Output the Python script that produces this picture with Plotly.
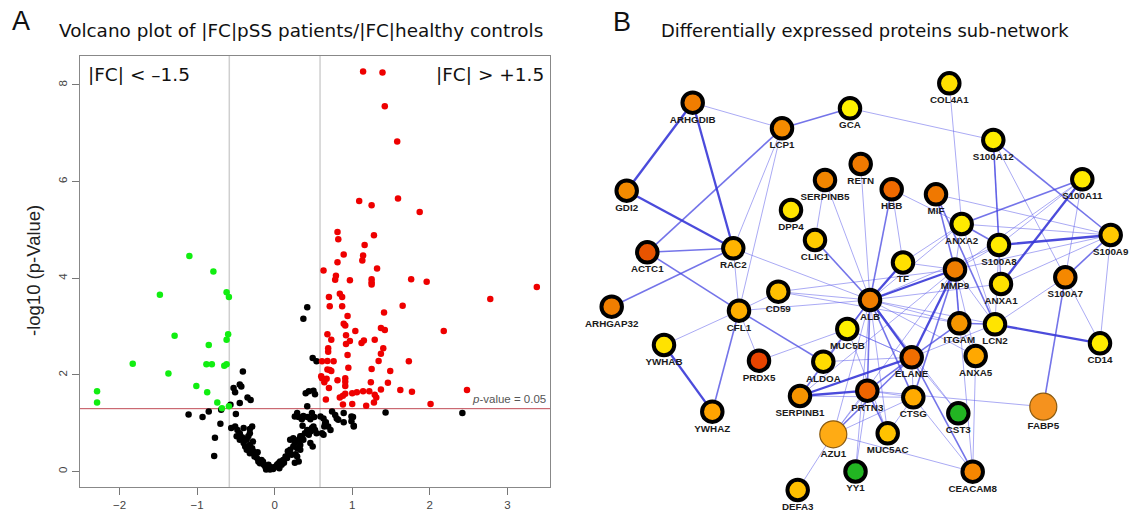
import plotly.graph_objects as go

# ---------------- Volcano plot data ----------------
green_x = [-1.10, -0.79, -1.48, -0.62, -0.59, -1.29, -0.60, -0.62, -0.85, -1.83, -0.88,
           -0.81, -0.65, -0.62, -1.37, -1.01, -0.87, -2.29, -2.29, -0.74, -0.68, -0.59]
green_y = [4.46, 4.14, 3.66, 3.71, 3.61, 2.81, 2.84, 2.73, 2.62, 2.23, 2.22,
           2.22, 2.19, 2.22, 2.03, 1.77, 1.64, 1.66, 1.43, 1.43, 1.31, 1.35]

red_x = [1.14, 1.39, 1.42, 1.58, 1.09, 1.25, 1.59, 1.87, 0.81, 0.82, 1.28, 1.16, 0.89, 1.14,
         1.13, 0.81, 1.32, 0.63, 0.79, 0.78, 0.97, 1.25, 1.25, 1.25, 1.76, 1.96, 3.38, 0.84,
         0.87, 0.70, 2.78, 1.65, 0.71, 0.87, 1.41, 0.94, 0.89, 0.91, 1.37, 1.42, 2.18, 1.04,
         0.68, 0.92, 0.73, 0.97, 0.92, 1.15, 1.12, 1.29, 1.40, 0.69, 0.69, 1.37, 0.94, 1.34,
         1.73, 0.61, 0.68, 0.76, 0.68, 0.71, 0.73, 0.95, 1.25, 1.49, 0.60, 0.61, 0.67, 0.64,
         0.81, 0.91, 0.91, 0.91, 1.24, 1.46, 0.70, 1.37, 1.62, 1.77, 1.00, 1.06, 1.14, 1.22,
         0.91, 0.88, 0.84, 1.29, 1.31, 1.28, 0.66, 0.88, 1.00, 1.18, 2.01, 2.48]
red_y = [8.28, 8.26, 7.56, 6.83, 5.60, 5.51, 5.65, 5.37, 4.96, 4.81, 4.89, 4.69, 4.49, 4.47,
         4.37, 4.33, 4.20, 4.16, 4.05, 3.97, 3.96, 3.98, 3.92, 3.87, 3.98, 3.93, 3.82, 3.68,
         3.61, 3.61, 3.57, 3.43, 3.42, 3.42, 3.29, 3.22, 3.06, 3.02, 2.97, 2.93, 2.91, 2.91,
         2.84, 2.82, 2.73, 2.70, 2.64, 2.71, 2.66, 2.73, 2.55, 2.55, 2.48, 2.44, 2.41, 2.29,
         2.28, 2.28, 2.29, 2.28, 2.11, 2.10, 2.08, 2.15, 2.12, 2.08, 1.97, 1.93, 1.92, 1.85,
         1.89, 1.93, 1.86, 1.77, 1.85, 1.84, 1.73, 1.70, 1.69, 1.65, 1.62, 1.64, 1.66, 1.66,
         1.61, 1.57, 1.53, 1.59, 1.53, 1.43, 1.49, 1.39, 1.40, 1.36, 1.40, 1.69]

black_x = [-1.11, -0.93, -0.85, -0.69, -0.70, -0.77, -0.78, -0.57, -0.56, -0.50, -0.45, -0.41,
           -0.53, -0.51, -0.45, -0.43, -0.35, -0.31,
           -0.51, -0.48, -0.45, -0.49, -0.45, -0.42, -0.40, -0.38, -0.36, -0.40, -0.32, -0.29,
           -0.32, -0.34, -0.36, -0.32, -0.29, -0.27, -0.25, -0.32, -0.23, -0.21, -0.19, -0.17,
           -0.14, -0.12, -0.10, -0.08, -0.06, -0.04, -0.02, 0.01, 0.03, 0.05, 0.07, 0.09, 0.11,
           0.14, 0.16, 0.18, 0.20, 0.22, 0.24, 0.26, 0.29, 0.31, 0.33, 0.35, 0.37, 0.39, 0.42,
           0.44, 0.46, 0.48, 0.50, 0.52, 0.54, 0.49, 0.33, 0.29, 0.20, 0.24,
           0.26, 0.31, 0.35, 0.37, 0.42, 0.46, 0.51, 0.42, 0.40, 0.44, 0.50, 0.52, 0.49, 0.54,
           0.59, 0.63, 0.66, 0.69, 0.72, 0.61, 0.64, 0.74, 0.78, 0.82, 0.89, 1.01, 1.02, 0.80,
           1.43, 2.42, 0.37, 0.42,
           0.29, 0.48, 0.65, 0.89, 0.99, 1.02, 0.99, 0.63, 0.46, 0.33, 0.26, 0.31,
           -0.28, -0.26, -0.22, -0.15, -0.11, 0.06, 0.12, 0.17, 0.27, 0.36]
black_y = [1.18, 1.13, 1.24, 1.28, 0.99, 0.70, 0.32, 1.38, 0.90, 1.19, 1.42, 2.07,
           1.73, 1.64, 1.80, 1.76, 1.53, 1.48,
           0.93, 0.86, 0.79, 0.73, 0.66, 0.71, 0.59, 0.52, 0.45, 0.90, 0.88, 0.93,
           0.79, 0.73, 0.66, 0.55, 0.48, 0.41, 0.35, 0.38, 0.28, 0.21, 0.17, 0.24,
           0.14, 0.10, 0.07, 0.14, 0.04, 0.09, 0.05, 0.10, 0.14, 0.17, 0.21, 0.14, 0.24,
           0.31, 0.28, 0.38, 0.45, 0.35, 0.52, 0.59, 0.48, 0.66, 0.55, 0.73, 0.66, 0.79, 0.86,
           0.76, 0.83, 0.90, 0.93, 0.86, 0.79, 0.52, 0.45, 0.31, 0.66, 0.69,
           1.14, 1.13, 1.08, 1.15, 1.13, 1.08, 1.13, 1.35, 1.62, 1.66, 1.67, 1.60, 2.35, 2.28,
           1.14, 1.10, 1.02, 0.93, 0.86, 0.79, 0.93, 1.24, 1.17, 1.07, 1.02, 1.13, 0.93, 1.10,
           1.22, 1.21, 3.16, 3.40,
           1.21, 1.21, 1.00, 1.21, 1.14, 0.95, 1.04, 0.76, 0.59, 0.73, 0.18, 0.21,
           0.62, 0.31, 0.40, 0.20, 0.04, 0.07, 0.18, 0.42, 0.36, 0.95]

fc_threshold = 0.585
p_threshold = 1.301
x_ticks = [-2, -1, 0, 1, 2, 3]
y_ticks = [0, 2, 4, 6, 8]

# ---------------- Network data ----------------
node_names = ["ARHGDIB", "LCP1", "GCA", "COL4A1", "S100A12", "GDI2", "SERPINB5", "RETN", "HBB",
              "MIF", "S100A11", "DPP4", "CLIC1", "ANXA2", "S100A8", "S100A9", "ACTC1", "RAC2",
              "TF", "MMP9", "ANXA1", "S100A7", "ARHGAP32", "CD59", "CFL1", "ALB", "MUC5B",
              "ITGAM", "LCN2", "CD14", "YWHAB", "PRDX5", "ALDOA", "ELANE", "ANXA5", "SERPINB1",
              "PRTN3", "CTSG", "CST3", "FABP5", "YWHAZ", "AZU1", "MUC5AC", "YY1", "CEACAM8",
              "DEFA3"]
node_x = [692.7, 782.0, 850.0, 949.3, 993.3, 626.7, 825.0, 860.7, 891.7,
          936.0, 1082.3, 791.0, 815.0, 961.7, 999.0, 1110.7, 647.3, 733.3,
          903.0, 955.0, 1001.0, 1065.3, 611.7, 778.3, 739.0, 870.0, 847.3,
          959.3, 995.0, 1100.0, 664.0, 759.0, 823.3, 911.7, 975.7, 800.0,
          867.3, 913.3, 958.3, 1043.3, 712.3, 833.3, 887.7, 855.5, 972.7,
          797.7]
node_y = [102.7, 128.3, 108.3, 83.3, 140.0, 190.7, 180.0, 164.0, 189.3,
          194.3, 179.3, 210.0, 240.0, 224.0, 245.0, 235.0, 252.3, 248.3,
          262.5, 269.5, 284.0, 277.3, 306.7, 291.7, 310.7, 300.0, 329.0,
          323.3, 324.3, 343.3, 345.0, 360.7, 361.7, 357.3, 356.0, 396.0,
          390.7, 397.3, 413.3, 406.7, 411.7, 434.3, 433.3, 471.5, 471.7,
          490.0]
node_color = ["#F07D00", "#F58C00", "#FFF200", "#FFE000", "#FFEC00", "#F28A00", "#F28600", "#F07A00", "#F06A00",
              "#F07800", "#FFEA00", "#FFE400", "#FFCC00", "#FFEA00", "#FFEA00", "#FFC800", "#E85400", "#FFB400",
              "#FFE000", "#F07E00", "#FFE200", "#F58800", "#F07E00", "#FFC000", "#FFAE00", "#F07E00", "#FFF000",
              "#F59600", "#FFE400", "#FFEC00", "#FFE200", "#E84400", "#FFDC00", "#F06E00", "#FFA800", "#F59400",
              "#EE6400", "#FFAA00", "#22B522", "#F5921E", "#FFA400", "#FFAB14", "#FFC200", "#22B522", "#F58600",
              "#FFC000"]
big_nodes = ["FABP5", "AZU1"]

edges_thick = [("ARHGDIB", "GDI2"), ("ARHGDIB", "RAC2"), ("GDI2", "RAC2"), ("YWHAB", "YWHAZ"),
               ("S100A8", "S100A9"), ("ALB", "ELANE"), ("ELANE", "MMP9"), ("SERPINB1", "ELANE"),
               ("TF", "ALB"), ("LCN2", "CD14"), ("S100A11", "ANXA1"), ("ALB", "MMP9"),
               ("SERPINB1", "PRTN3")]
edges_medium = [("LCP1", "GCA"), ("LCP1", "ACTC1"), ("ACTC1", "CFL1"), ("RAC2", "ARHGAP32"),
                ("CFL1", "YWHAZ"), ("CFL1", "ALDOA"), ("S100A12", "S100A8"), ("S100A12", "S100A9"),
                ("S100A11", "ANXA2"), ("S100A9", "S100A7"), ("HBB", "ALB"), ("MIF", "MMP9"),
                ("S100A7", "FABP5"), ("CLIC1", "ALB"), ("ALB", "PRTN3"), ("ALB", "CTSG"),
                ("ELANE", "PRTN3"), ("ELANE", "CEACAM8"), ("MMP9", "ITGAM"), ("ITGAM", "LCN2"),
                ("PRTN3", "MUC5AC"), ("AZU1", "ELANE"), ("MMP9", "CTSG"), ("ANXA2", "S100A8"),
                ("ALB", "SERPINB1"), ("ELANE", "ITGAM"), ("MIF", "LCN2"), ("ACTC1", "RAC2")]
edges_thin = [("ARHGDIB", "LCP1"), ("LCP1", "RAC2"), ("LCP1", "CFL1"), ("RAC2", "CFL1"), ("RAC2", "ALB"),
              ("SERPINB5", "CLIC1"), ("SERPINB5", "ALB"), ("GCA", "S100A12"), ("COL4A1", "ANXA2"),
              ("S100A12", "S100A7"), ("S100A11", "S100A7"), ("S100A11", "S100A8"), ("S100A9", "ANXA2"),
              ("MIF", "S100A9"), ("S100A9", "MMP9"), ("S100A9", "ANXA1"), ("S100A9", "CD14"),
              ("HBB", "TF"), ("HBB", "ANXA2"), ("RETN", "ALB"), ("ANXA2", "ALB"), ("ANXA2", "MMP9"),
              ("ANXA2", "TF"), ("TF", "MMP9"), ("ALB", "CFL1"), ("ALB", "CD59"), ("ALB", "MUC5B"),
              ("ALB", "ALDOA"), ("ALB", "ITGAM"), ("ALB", "LCN2"), ("ALB", "ANXA5"), ("ALB", "S100A8"),
              ("ALB", "ANXA1"), ("ALB", "CST3"), ("ALB", "AZU1"), ("ALB", "MUC5AC"), ("ALB", "YY1"),
              ("CD59", "MMP9"), ("CD59", "ITGAM"), ("CFL1", "YWHAB"), ("CFL1", "PRDX5"), ("CFL1", "CD59"),
              ("PRDX5", "MUC5B"), ("SERPINB1", "MMP9"), ("SERPINB1", "CTSG"), ("AZU1", "DEFA3"),
              ("AZU1", "PRTN3"), ("AZU1", "CTSG"), ("AZU1", "MMP9"), ("ELANE", "CTSG"), ("ELANE", "CST3"),
              ("ELANE", "LCN2"), ("ELANE", "MUC5B"), ("ELANE", "ALDOA"), ("PRTN3", "CTSG"),
              ("PRTN3", "FABP5"), ("CTSG", "MUC5AC"), ("CTSG", "CEACAM8"), ("MMP9", "LCN2"),
              ("MMP9", "ANXA5"), ("MMP9", "CEACAM8"), ("MMP9", "S100A8"), ("ANXA5", "CEACAM8"),
              ("ANXA5", "ITGAM"), ("S100A7", "LCN2"), ("S100A7", "CD14"), ("AZU1", "CEACAM8"),
              ("MUC5AC", "MUC5B"), ("S100A8", "ANXA1"), ("S100A8", "LCN2"), ("S100A11", "MMP9"),
              ("S100A12", "ANXA1"), ("ANXA2", "LCN2"), ("MUC5B", "ELANE"), ("YY1", "PRTN3")]

# ---------------- Figure ----------------
W, H = 1130, 515
fig = go.Figure()

# Volcano reference lines
fig.add_trace(go.Scatter(x=[-fc_threshold, -fc_threshold], y=[-0.32, 8.6], mode="lines",
                         line=dict(color="#cfcfcf", width=1.5), showlegend=False, hoverinfo="skip"))
fig.add_trace(go.Scatter(x=[fc_threshold, fc_threshold], y=[-0.32, 8.6], mode="lines",
                         line=dict(color="#cfcfcf", width=1.5), showlegend=False, hoverinfo="skip"))
fig.add_trace(go.Scatter(x=[-2.51, 3.55], y=[p_threshold, p_threshold], mode="lines",
                         line=dict(color="#c04a55", width=1), showlegend=False, hoverinfo="skip"))

for xs, ys, col in [(black_x, black_y, "#000000"), (red_x, red_y, "#ee0000"), (green_x, green_y, "#11ee11")]:
    fig.add_trace(go.Scatter(x=xs, y=ys, mode="markers", marker=dict(color=col, size=6.5, opacity=1),
                             showlegend=False, xaxis="x", yaxis="y"))

# Network edges
idx = {n: i for i, n in enumerate(node_names)}
for elist, col, wdt in [(edges_thin, "rgba(100,100,235,0.55)", 1.0),
                        (edges_medium, "rgba(70,70,225,0.75)", 1.6),
                        (edges_thick, "rgba(55,55,215,0.9)", 2.3)]:
    ex, ey = [], []
    for a, b in elist:
        ex += [node_x[idx[a]], node_x[idx[b]], None]
        ey += [node_y[idx[a]], node_y[idx[b]], None]
    fig.add_trace(go.Scatter(x=ex, y=ey, mode="lines", line=dict(color=col, width=wdt),
                             xaxis="x2", yaxis="y2", showlegend=False, hoverinfo="skip"))

# Network nodes
sizes = [27 if n in big_nodes else 20.5 for n in node_names]
lw = [1.2 if n in big_nodes else 4 for n in node_names]
lc = ["#8a5a10" if n in big_nodes else "#000000" for n in node_names]
fig.add_trace(go.Scatter(x=node_x, y=node_y, mode="markers",
                         marker=dict(color=node_color, size=sizes, opacity=1,
                                     line=dict(color=lc, width=lw)),
                         xaxis="x2", yaxis="y2", showlegend=False, text=node_names))
label_y = [y + (20 if n in big_nodes else 17.5) for n, y in zip(node_names, node_y)]
fig.add_trace(go.Scatter(x=node_x, y=label_y, mode="text", text=["<b>%s</b>" % n for n in node_names],
                         textfont=dict(family="Liberation Sans, Arial", size=9.8, color="#1a1a1a"),
                         xaxis="x2", yaxis="y2", showlegend=False, hoverinfo="skip"))

axis_font = dict(family="Liberation Sans, Arial", size=11.5, color="#444444")
fig.update_layout(
    width=W, height=H, margin=dict(l=0, r=0, t=0, b=0),
    paper_bgcolor="white", plot_bgcolor="white",
    xaxis=dict(domain=[80 / W, 550 / W], range=[-2.51, 3.55], tickvals=x_ticks,
               ticks="outside", ticklen=7, tickcolor="#777777", showline=True, mirror=True,
               linecolor="#888888", linewidth=1, showgrid=False, zeroline=False,
               tickfont=axis_font),
    yaxis=dict(domain=[(H - 487) / H, (H - 56) / H], range=[-0.32, 8.6], tickvals=y_ticks,
               ticks="outside", ticklen=7, tickcolor="#777777", showline=True, mirror=True,
               linecolor="#888888", linewidth=1, showgrid=False, zeroline=False,
               tickangle=-90, tickfont=axis_font),
    xaxis2=dict(domain=[570 / W, 1.0], range=[570, 1130], visible=False, anchor="y2"),
    yaxis2=dict(domain=[0, 1], range=[515, 0], visible=False, anchor="x2"),
)

ann = [
    dict(x=10 / W, y=1 - 21 / H, text="A", font=dict(family="Liberation Sans, Arial", size=27, color="#111"),
         xanchor="left", yanchor="middle", showarrow=False),
    dict(x=57 / W, y=1 - 31 / H, text="Volcano plot of |FC|pSS patients/|FC|healthy controls",
         font=dict(family="DejaVu Sans, Verdana", size=18.4, color="#111"),
         xanchor="left", yanchor="middle", showarrow=False),
    dict(x=611 / W, y=1 - 22 / H, text="B", font=dict(family="Liberation Sans, Arial", size=27, color="#111"),
         xanchor="left", yanchor="middle", showarrow=False),
    dict(x=659 / W, y=1 - 31 / H, text="Differentially expressed proteins sub-network",
         font=dict(family="DejaVu Sans, Verdana", size=17.9, color="#111"),
         xanchor="left", yanchor="middle", showarrow=False),
    dict(x=86 / W, y=1 - 75 / H, text="|FC| < \u20131.5",
         font=dict(family="DejaVu Sans, Verdana", size=18.5, color="#111"),
         xanchor="left", yanchor="middle", showarrow=False),
    dict(x=546 / W, y=1 - 75 / H, text="|FC| > +1.5",
         font=dict(family="DejaVu Sans, Verdana", size=18.5, color="#111"),
         xanchor="right", yanchor="middle", showarrow=False),
    dict(x=548 / W, y=1 - 399 / H, text="<i>p</i>-value = 0.05",
         font=dict(family="Liberation Sans, Arial", size=11.5, color="#555"),
         xanchor="right", yanchor="middle", showarrow=False),
    dict(x=33 / W, y=1 - 271 / H, text="-log10 (p-Value)", textangle=-90,
         font=dict(family="Liberation Sans, Arial", size=18.5, color="#222"),
         xanchor="center", yanchor="middle", showarrow=False),
]
for a in ann:
    a["xref"] = "paper"
    a["yref"] = "paper"
fig.update_layout(annotations=ann)

fig.write_html("out.html", config={"displayModeBar": False},
               post_script="document.body.style.margin='0px';document.body.style.overflow='hidden';")
